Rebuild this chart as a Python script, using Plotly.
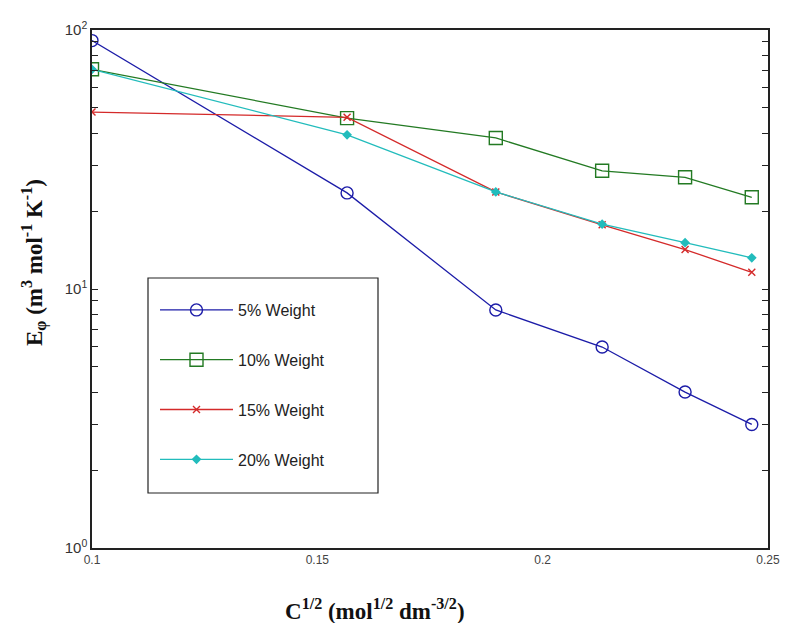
import plotly.graph_objects as go

x_vals = [0.1, 0.1566, 0.1896, 0.2132, 0.2316, 0.2464]
w5 = [91.0, 23.5, 8.3, 5.97, 4.0, 3.0]
w10 = [70.5, 45.7, 38.3, 28.6, 27.0, 22.6]
w15 = [48.2, 46.0, 23.7, 17.7, 14.2, 11.6]
w20 = [70.5, 39.4, 23.7, 17.8, 15.1, 13.2]

series_names = ["5% Weight", "10% Weight", "15% Weight", "20% Weight"]
series_vals = [w5, w10, w15, w20]
colors = ["#1c1ca8", "#237a23", "#d42a2a", "#22bcbc"]
symbols = ["circle-open", "square-open", "x-thin-open", "diamond"]
msizes = [12, 13, 7, 6]

x_ticks = [0.1, 0.15, 0.2, 0.25]
x_ticktext = ["0.1", "0.15", "0.2", "0.25"]

y_major = [1, 10, 100]
y_major_text = ["10<sup>0</sup>", "10<sup>1</sup>", "10<sup>2</sup>"]
y_minor = [d * m for d in (1, 10) for m in range(2, 10)]

# plot area in pixels (layout helpers)
L, R, T, B = 92, 768, 30, 548
PW, PH = R - L, B - T


def px(x):
    return (x - L) / PW


def py(y):
    return (B - y) / PH


fig = go.Figure()
for i, (name, vals) in enumerate(zip(series_names, series_vals)):
    fig.add_trace(go.Scatter(
        x=x_vals, y=vals, name=name, mode="lines+markers",
        legendgroup=name,
        line=dict(color=colors[i], width=1.3),
        marker=dict(symbol=symbols[i], size=msizes[i], color=colors[i],
                    line=dict(color=colors[i], width=1.4)),
    ))

fig.update_layout(
    width=792, height=623,
    margin=dict(l=L, r=792 - R, t=T, b=623 - B),
    paper_bgcolor="white", plot_bgcolor="white",
    showlegend=True,
    legend=dict(
        x=px(155), y=py(293), xanchor="left", yanchor="top",
        borderwidth=0, bgcolor="rgba(0,0,0,0)",
        font=dict(family="Liberation Sans, Arial", size=16, color="#222"),
        tracegroupgap=26, itemwidth=73,
    ),
    shapes=[
        dict(type="rect", xref="paper", yref="paper",
             x0=px(148), x1=px(378), y0=py(493), y1=py(278),
             line=dict(color="#222", width=1.2), fillcolor="white", layer="below"),
    ],
    xaxis=dict(
        range=[0.1, 0.25], showgrid=False, zeroline=False,
        showline=True, linecolor="#222", linewidth=1.5, mirror=True,
        ticks="", tickvals=x_ticks, ticktext=x_ticktext,
        tickfont=dict(family="Liberation Sans Narrow, Liberation Sans", size=12, color="#444"),
    ),
    yaxis=dict(
        type="log", range=[0, 2], showgrid=False, zeroline=False,
        showline=True, linecolor="#222", linewidth=1.5, mirror="ticks",
        ticks="inside", ticklen=6, tickcolor="#222",
        tickvals=y_major, ticktext=y_major_text,
        minor=dict(tickvals=y_minor, ticks="inside", ticklen=6, tickcolor="#222", showgrid=False),
        tickfont=dict(family="Liberation Sans, Arial", size=15, color="#333"),
    ),
    annotations=[
        dict(text="<b>C<sup>1/2</sup> (mol<sup>1/2</sup> dm<sup>-3/2</sup>)</b>",
             xref="paper", yref="paper", x=px(375), y=py(609),
             xanchor="center", yanchor="middle", showarrow=False,
             font=dict(family="Liberation Serif, Times New Roman", size=23, color="#111")),
        dict(text="<b>E<sub>φ</sub> (m<sup>3</sup> mol<sup>-1</sup> K<sup>-1</sup>)</b>",
             xref="paper", yref="paper", x=px(34), y=py(263),
             xanchor="center", yanchor="middle", showarrow=False, textangle=-90,
             font=dict(family="Liberation Serif, Times New Roman", size=23, color="#111")),
    ],
)

fig.write_html("out.html")
